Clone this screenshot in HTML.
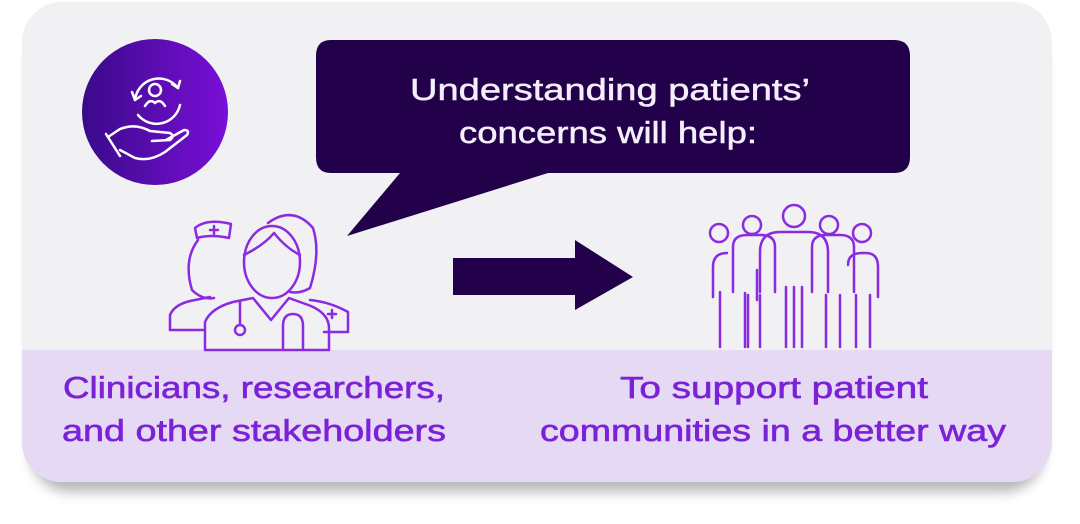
<!DOCTYPE html>
<html><head><style>
html,body{margin:0;padding:0;width:1080px;height:524px;background:#fff;overflow:hidden;font-family:"Liberation Sans",sans-serif}
</style></head><body>
<svg width="1080" height="524" viewBox="0 0 1080 524" xmlns="http://www.w3.org/2000/svg">
<defs>
<filter id="sh" x="-5%" y="-5%" width="110%" height="120%"><feGaussianBlur stdDeviation="6"/></filter>
<clipPath id="card"><rect x="22" y="2" width="1030" height="480" rx="40"/></clipPath>
<linearGradient id="cg" x1="0" x2="1"><stop offset="0" stop-color="#3a0a8a"/><stop offset="1" stop-color="#7a0fd8"/></linearGradient>
</defs>
<rect x="30" y="24" width="1014" height="468" rx="40" fill="#000" opacity="0.28" filter="url(#sh)"/>
<g clip-path="url(#card)">
<rect x="22" y="2" width="1030" height="480" fill="#f1f0f2"/>
<rect x="22" y="350" width="1030" height="140" fill="#e6d9f3"/>
</g>
<circle cx="155" cy="112" r="73" fill="url(#cg)"/>
<g fill="none" stroke="#fff" stroke-width="2.5" stroke-linecap="round" stroke-linejoin="round">
<path d="M135 100 A24 24 0 0 1 178 88"/><path d="M172 84 l6 4 l2 -7"/>
<path d="M180 105 A24 24 0 0 1 138 115"/><path d="M132 92 l3 8 l6 -4"/>
<circle cx="155" cy="90" r="6"/><path d="M145 106 q5 -8 10 -3 q5 -5 10 3"/>
<path d="M108 137 l12 -8 q15 -6 30 2 l20 2 q5 3 0 7 l-18 1"/>
<path d="M120 150 l15 8 q15 4 30 -6 l22 -17 q3 -5 -3 -5 l-18 10"/>
<path d="M106 134 l14 22"/>
</g>
<path d="M331 40 H894 Q910 40 910 56 V157 Q910 173 894 173 H548 L347 236 L400 173 H331 Q316 173 316 157 V56 Q316 40 331 40 Z" fill="#22004a"/>
<g fill="#f4eefa" stroke="#f4eefa" stroke-width="0.5" font-size="31">
<text x="410" y="100" textLength="400" lengthAdjust="spacingAndGlyphs">Understanding patients’</text>
<text x="459" y="143" textLength="298" lengthAdjust="spacingAndGlyphs">concerns will help:</text>
</g>
<path d="M453 258 H575 V240 L633 277 L575 310 V295 H453 Z" fill="#22004a"/>
<g fill="none" stroke="#8a2be2" stroke-width="2.5" stroke-linejoin="round" stroke-linecap="round">
<path d="M195 228 q12 -10 36 -4 l-2 14 q-18 -4 -32 0 z"/><path d="M210 230 h8 M214 226 v8"/>
<path d="M198 240 q-15 20 -6 50 q10 10 22 8"/>
<path d="M268 223 q25 -18 45 5 q8 25 -3 60 q-10 6 -20 4"/><path d="M310 300 q20 2 38 12 v20 h-24"/><path d="M328 314 h8 M332 310 v8"/>
<path d="M170 330 v-15 q4 -10 20 -14 l20 -4"/><path d="M170 330 h34"/>
<ellipse cx="272" cy="262" rx="28" ry="36"/><path d="M244 255 q20 -10 30 -22 q12 15 26 22"/>
<path d="M205 350 v-28 q6 -14 28 -20 l20 -4 l18 22 l18 -22 l22 8 q18 8 18 22 v22 z"/>
<path d="M240 302 v22"/><circle cx="240" cy="330" r="5"/>
<path d="M283 348 v-22 q0 -12 10 -12 q10 0 10 12 v22"/>
</g>
<g fill="none" stroke="#8a2be2" stroke-width="2.5" stroke-linecap="round" stroke-linejoin="round">
<circle cx="719" cy="233" r="9"/><circle cx="752" cy="225" r="9"/><circle cx="794" cy="216" r="11"/><circle cx="829" cy="225" r="9"/><circle cx="862" cy="233" r="9"/>
<path d="M720 347 v-55 M713 297 v-30 q0 -14 14 -14 M757 300 v-30 M745 347 v-54"/>
<path d="M733 292 v-45 q0 -12 14 -12 h14 q14 0 14 12 v45 M748 347 v-52 M760 347 v-52"/>
<path d="M760 292 v-40 q0 -20 20 -20 h28 q20 0 20 20 v40 M786 347 v-60 M802 347 v-60 M794 347 v-60"/>
<path d="M812 292 v-45 q0 -12 14 -12 h14 q14 0 14 12 v45 M826 347 v-52 M840 347 v-52"/>
<path d="M848 265 q0 -12 14 -12 h4 q12 0 12 14 v30 M856 347 v-52 M870 347 v-52"/>
</g>
<g fill="#7b22d8" stroke="#7b22d8" stroke-width="0.6" font-size="31">
<text x="63" y="398" textLength="382" lengthAdjust="spacingAndGlyphs">Clinicians, researchers,</text>
<text x="62" y="441" textLength="384" lengthAdjust="spacingAndGlyphs">and other stakeholders</text>
<text x="620" y="398" textLength="308" lengthAdjust="spacingAndGlyphs">To support patient</text>
<text x="540" y="441" textLength="466" lengthAdjust="spacingAndGlyphs">communities in a better way</text>
</g>
</svg>
</body></html>
